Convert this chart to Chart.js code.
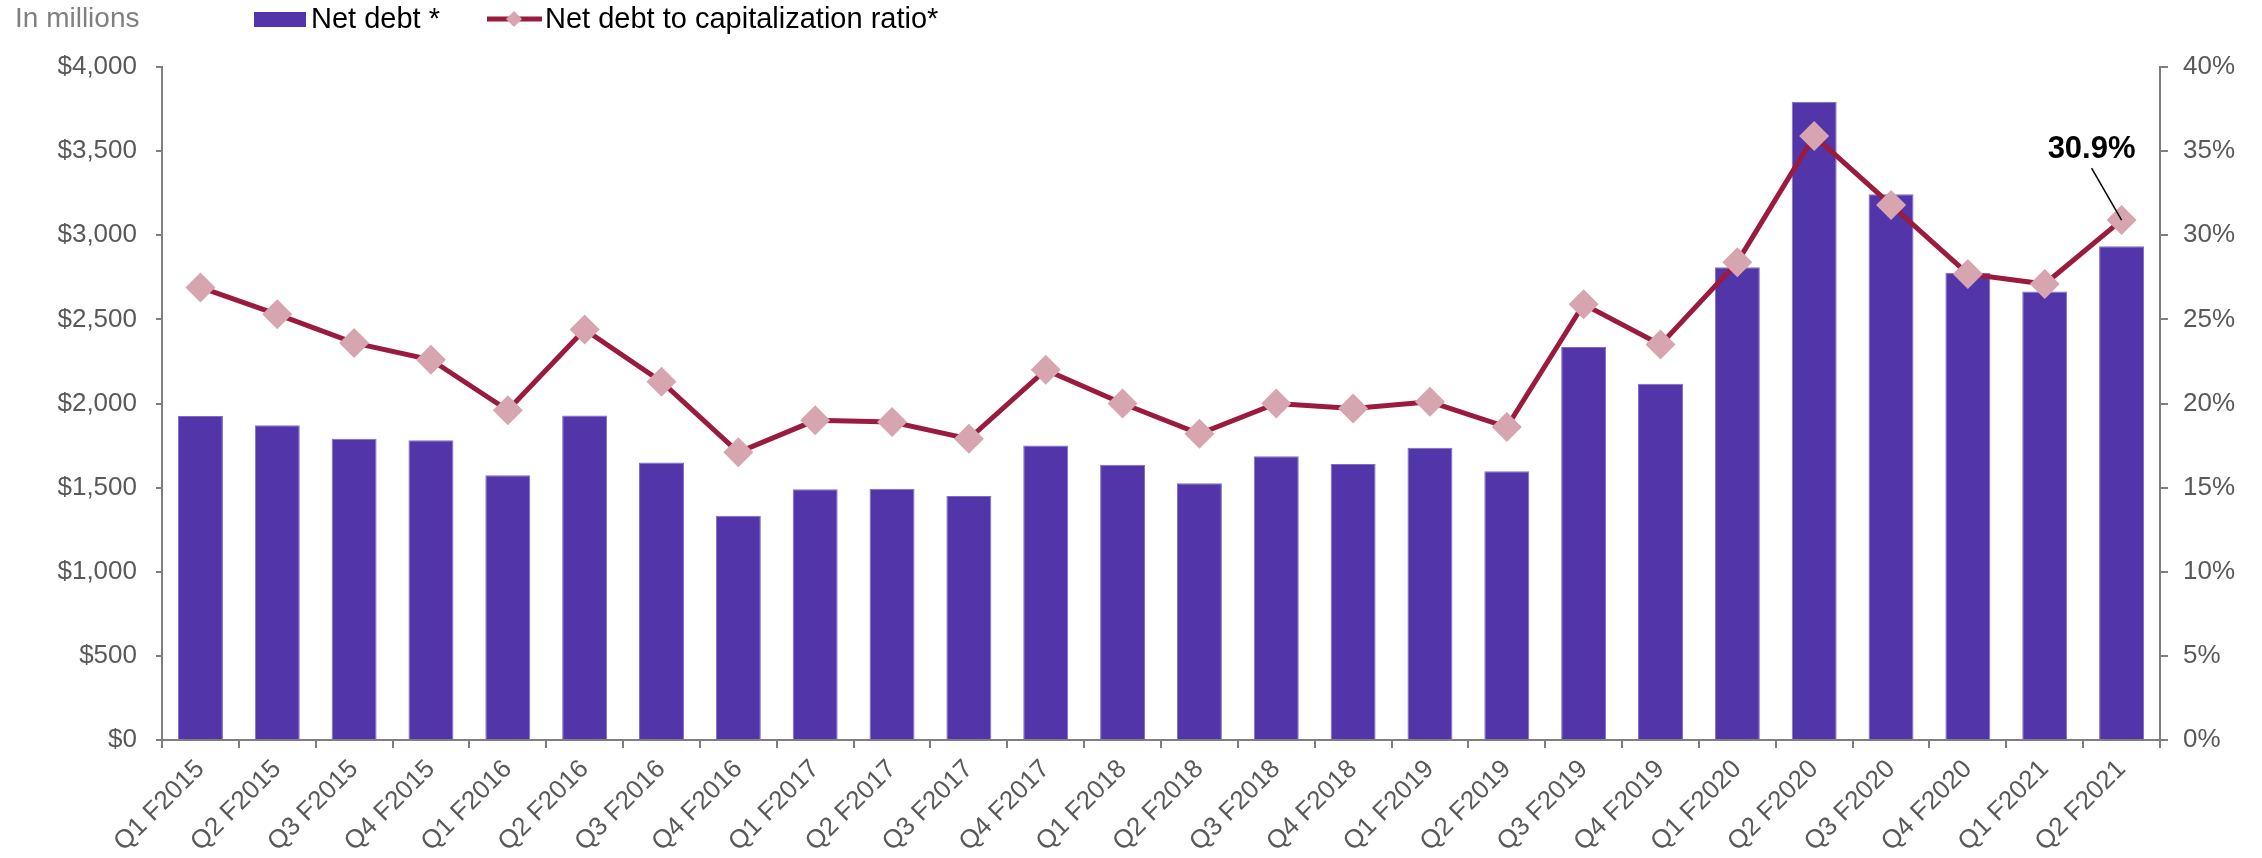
<!DOCTYPE html>
<html>
<head>
<meta charset="utf-8">
<script src="https://cdn.jsdelivr.net/npm/chart.js@4"></script>
<style>
   html, body { margin: 0; padding: 0; background: #fff; }
   #wrap { position: relative; width: 2262px; height: 858px; }
</style>
</head>
<body>
<div id="wrap"><canvas id="myChart"></canvas></div>
<script>
const ctx = document.getElementById("myChart").getContext("2d");

const labels = [
   'Q1 F2015', 'Q2 F2015', 'Q3 F2015', 'Q4 F2015',
   'Q1 F2016', 'Q2 F2016', 'Q3 F2016', 'Q4 F2016',
   'Q1 F2017', 'Q2 F2017', 'Q3 F2017', 'Q4 F2017',
   'Q1 F2018', 'Q2 F2018', 'Q3 F2018', 'Q4 F2018',
   'Q1 F2019', 'Q2 F2019', 'Q3 F2019', 'Q4 F2019',
   'Q1 F2020', 'Q2 F2020', 'Q3 F2020', 'Q4 F2020',
   'Q1 F2021', 'Q2 F2021'
];

// net debt, $ millions
const netDebt = [1926, 1870, 1791, 1781, 1573, 1928, 1650, 1333, 1490, 1494, 1450, 1751, 1636,
   1526, 1686, 1640, 1737, 1597, 2336, 2118, 2810, 3794, 3243, 2777, 2665, 2934];

// net debt to capitalization, %
const ratio = [26.9, 25.3, 23.6, 22.6, 19.6, 24.4, 21.3, 17.1, 19.0, 18.9, 17.9, 22.0, 20.0,
   18.2, 20.0, 19.7, 20.1, 18.6, 25.9, 23.5, 28.4, 35.9, 31.8, 27.7, 27.1, 30.9];

const seriesNames = ['Net debt *', 'Net debt to capitalization ratio*'];

const FONT = '"Liberation Sans", Arial, sans-serif';
const BAR = '#5236A9';
const LINE = '#9B1B3E';
const MARK = '#D6A5B0';
const AXIS = '#7f7f7f';
const TXT = '#595959';

// legend, unit note and the callout on the last point
const extras = {
   id: 'extras',
   afterDraw(chart) {
      const c = chart.ctx;
      c.save();
      c.textBaseline = 'alphabetic';
      c.textAlign = 'left';

      c.fillStyle = '#808080';
      c.font = '28px ' + FONT;
      c.fillText('In millions', 15, 27);

      c.fillStyle = BAR;
      c.fillRect(254, 12, 52, 15);
      c.fillStyle = '#000';
      c.font = '29px ' + FONT;
      c.fillText(seriesNames[0], 311, 28);

      c.strokeStyle = LINE;
      c.lineWidth = 5;
      c.beginPath();
      c.moveTo(487, 19);
      c.lineTo(542, 19);
      c.stroke();
      c.fillStyle = MARK;
      c.beginPath();
      c.moveTo(514, 11); c.lineTo(522, 19); c.lineTo(514, 27); c.lineTo(506, 19);
      c.closePath();
      c.fill();
      c.fillStyle = '#000';
      c.fillText(seriesNames[1], 545, 28);

      const last = ratio.length - 1;
      const pt = chart.getDatasetMeta(1).data[last];
      c.strokeStyle = '#000';
      c.lineWidth = 1.5;
      c.beginPath();
      c.moveTo(pt.x - 30, pt.y - 52);
      c.lineTo(pt.x, pt.y);
      c.stroke();
      c.font = 'bold 31px ' + FONT;
      c.textAlign = 'center';
      c.fillText(ratio[last].toFixed(1) + '%', pt.x - 30, pt.y - 62);
      c.restore();
   }
};

const data = {
   labels,
   datasets: [
      {
         type: 'bar',
         label: seriesNames[0],
         data: netDebt,
         yAxisID: 'y',
         backgroundColor: BAR,
         borderColor: '#7d6cc6',
         borderWidth: 1,
         barPercentage: 0.585,
         categoryPercentage: 1,
         order: 2,
      },
      {
         type: 'line',
         label: seriesNames[1],
         data: ratio,
         yAxisID: 'y1',
         borderColor: LINE,
         borderWidth: 5,
         tension: 0,
         pointStyle: 'rectRot',
         pointRadius: 15,
         pointBackgroundColor: MARK,
         pointBorderWidth: 0,
         order: 1,
      }
   ]
};

const config = {
   data: data,
   options: {
      responsive: true,
      maintainAspectRatio: false,
      animation: false,
      layout: { padding: { top: 67, left: 0, right: 0, bottom: 0 } },
      plugins: {
         legend: { display: false },
         tooltip: { enabled: false }
      },
      scales: {
         x: {
            grid: { offset: true, drawOnChartArea: false, color: AXIS, tickLength: 8, lineWidth: 2 },
            border: { color: AXIS, width: 2 },
            ticks: {
               color: TXT,
               font: { family: FONT, size: 26 },
               maxRotation: 45,
               minRotation: 45,
               autoSkip: false,
               padding: 6
            },
            afterFit(scale) { scale.height = 118; }
         },
         y: {
            position: 'left',
            min: 0,
            max: 4000,
            grid: { drawOnChartArea: false, color: AXIS, tickLength: 6, lineWidth: 2 },
            border: { color: AXIS, width: 2 },
            ticks: {
               stepSize: 500,
               color: TXT,
               padding: 19,
               font: { family: FONT, size: 26 },
               callback: v => '$' + v.toLocaleString('en-US')
            },
            afterFit(scale) { scale.width = 162; }
         },
         y1: {
            position: 'right',
            min: 0,
            max: 40,
            grid: { drawOnChartArea: false, color: AXIS, tickLength: 8, lineWidth: 2 },
            border: { color: AXIS, width: 2 },
            ticks: {
               stepSize: 5,
               color: TXT,
               padding: 15,
               font: { family: FONT, size: 26 },
               callback: v => v + '%'
            },
            afterFit(scale) { scale.width = 102; }
         }
      }
   },
   plugins: [extras]
};

const myChart = new Chart(ctx, config);
</script>
</body>
</html>
